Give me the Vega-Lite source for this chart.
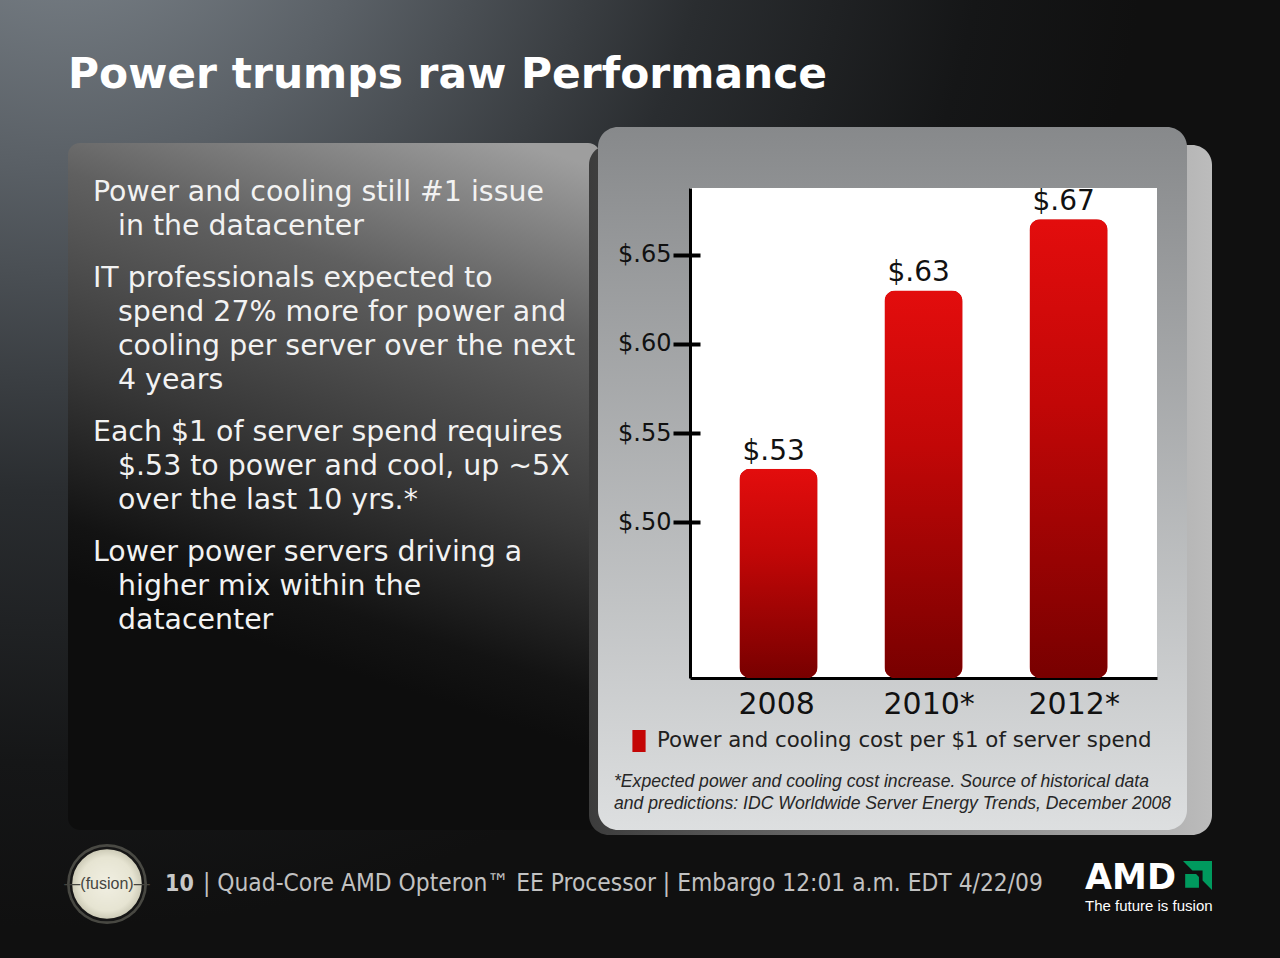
{
  "$schema": "https://vega.github.io/schema/vega-lite/v6.json",
  "background": "#111111",
  "padding": 0,
  "config": {
    "view": {"stroke": null},
    "font": "DejaVu Sans"
  },
  "title": {
    "text": "Power trumps raw Performance",
    "orient": "top",
    "anchor": "start",
    "frame": "bounds",
    "dx": 68,
    "offset": -130,
    "baseline": "alphabetic",
    "font": "DejaVu Sans",
    "fontWeight": "bold",
    "fontSize": 42.4,
    "color": "#ffffff"
  },
  "concat": [
    {
      "width": 1280,
      "height": 958,
      "view": {
        "stroke": null,
        "fill": {
          "gradient": "radial",
          "x1": 0.05, "y1": 0, "r1": 0,
          "x2": 0.05, "y2": 0, "r2": 0.85,
          "stops": [
            {"offset": 0, "color": "#858d94"},
            {"offset": 0.3, "color": "#5a6066"},
            {"offset": 0.6, "color": "#2a2d30"},
            {"offset": 0.85, "color": "#151617"},
            {"offset": 1, "color": "#101010"}
          ]
        }
      },
      "data": {"values": []},
      "mark": "point"
    },
    {
      "hconcat": [
        {"width": 64, "height": 1, "data": {"values": []}, "mark": "point"},
        {
          "vconcat": [
            {"width": 1, "height": 841, "data": {"values": []}, "mark": "point"},
            {
              "width": 86,
              "height": 86,
              "data": {"values": [{"label": "—(fusion)—"}]},
              "layer": [
                {"mark": {"type": "point", "shape": "circle", "size": 6400, "filled": true, "color": "#77776c", "opacity": 0.55}},
                {
                  "mark": {
                    "type": "point",
                    "shape": "circle",
                    "size": 5200,
                    "filled": true,
                    "opacity": 1,
                    "fill": {
                      "gradient": "radial",
                      "x1": 0.5, "y1": 0.5, "r1": 0,
                      "x2": 0.5, "y2": 0.5, "r2": 0.5,
                      "stops": [
                        {"offset": 0, "color": "#f1efe2"},
                        {"offset": 0.75, "color": "#e6e4d2"},
                        {"offset": 1, "color": "#c9c7b3"}
                      ]
                    },
                    "stroke": "#161616",
                    "strokeWidth": 2.5
                  }
                },
                {
                  "mark": {"type": "text", "font": "Liberation Sans Narrow, Liberation Sans", "fontSize": 16, "color": "#45453f"},
                  "encoding": {"text": {"field": "label"}}
                }
              ]
            }
          ],
          "spacing": 0,
          "bounds": "flush"
        },
        {"width": 4, "height": 1, "data": {"values": []}, "mark": "point"},
        {
          "vconcat": [
            {"width": 1, "height": 143, "data": {"values": []}, "mark": "point"},
            {
              "width": 532,
              "height": 687,
              "view": {
                "stroke": null,
                "cornerRadius": 12,
                "fill": {
                  "gradient": "linear",
                  "x1": 0.85, "y1": 0, "x2": 0.65, "y2": 0.8,
                  "stops": [
                    {"offset": 0, "color": "#9e9e9e"},
                    {"offset": 0.3, "color": "#606060"},
                    {"offset": 0.63, "color": "#383838"},
                    {"offset": 0.9, "color": "#131313"},
                    {"offset": 1, "color": "#0d0d0d"}
                  ]
                }
              },
              "title": {
                "text": "10",
                "orient": "bottom",
                "anchor": "start",
                "frame": "group",
                "dx": 97,
                "offset": 43,
                "font": "DejaVu Sans Condensed, DejaVu Sans",
                "fontSize": 23,
                "fontWeight": "bold",
                "color": "#c8c8c8"
              },
              "data": {
                "values": [
                  {"bullet": 0, "line": 0, "indent": 0, "text": "Power and cooling still #1 issue"},
                  {"bullet": 0, "line": 1, "indent": 1, "text": "in the datacenter"},
                  {"bullet": 1, "line": 2, "indent": 0, "text": "IT professionals expected to"},
                  {"bullet": 1, "line": 3, "indent": 1, "text": "spend 27% more for power and"},
                  {"bullet": 1, "line": 4, "indent": 1, "text": "cooling per server over the next"},
                  {"bullet": 1, "line": 5, "indent": 1, "text": "4 years"},
                  {"bullet": 2, "line": 6, "indent": 0, "text": "Each $1 of server spend requires"},
                  {"bullet": 2, "line": 7, "indent": 1, "text": "$.53 to power and cool, up ~5X"},
                  {"bullet": 2, "line": 8, "indent": 1, "text": "over the last 10 yrs.*"},
                  {"bullet": 3, "line": 9, "indent": 0, "text": "Lower power servers driving a"},
                  {"bullet": 3, "line": 10, "indent": 1, "text": "higher mix within the"},
                  {"bullet": 3, "line": 11, "indent": 1, "text": "datacenter"}
                ]
              },
              "mark": {
                "type": "text",
                "align": "left",
                "baseline": "middle",
                "font": "DejaVu Sans",
                "fontSize": 28.4,
                "color": "#f2f2f2",
                "dy": {"expr": "2 + datum.bullet * 18"}
              },
              "encoding": {
                "x": {"field": "indent", "type": "quantitative", "scale": {"domain": [-1, 20.28], "nice": false, "zero": false}, "axis": null},
                "y": {"field": "line", "type": "quantitative", "scale": {"domain": [-1.382, 18.824], "nice": false, "zero": false, "reverse": true}, "axis": null},
                "text": {"field": "text"}
              }
            }
          ],
          "spacing": 0,
          "bounds": "flush"
        },
        {"width": 521, "height": 1, "data": {"values": []}, "mark": "point"},
        {
          "vconcat": [
            {"width": 1, "height": 145, "data": {"values": []}, "mark": "point"},
            {
              "width": 623,
              "height": 690,
              "view": {
                "stroke": null,
                "cornerRadius": 20,
                "fill": {
                  "gradient": "linear",
                  "x1": 0, "y1": 0, "x2": 1, "y2": 0,
                  "stops": [
                    {"offset": 0, "color": "#3c3c3c"},
                    {"offset": 0.5, "color": "#7a7a7a"},
                    {"offset": 1, "color": "#bcbcbc"}
                  ]
                }
              },
              "data": {"values": []},
              "mark": "point"
            }
          ],
          "spacing": 0,
          "bounds": "flush"
        },
        {"width": 9, "height": 1, "data": {"values": []}, "mark": "point"},
        {
          "vconcat": [
            {"width": 1, "height": 127, "data": {"values": []}, "mark": "point"},
            {
              "width": 589,
              "height": 703,
              "view": {
                "stroke": null,
                "cornerRadius": 20,
                "fill": {
                  "gradient": "linear",
                  "x1": 0, "y1": 0, "x2": 0, "y2": 1,
                  "stops": [
                    {"offset": 0, "color": "#87898b"},
                    {"offset": 1, "color": "#dddfe0"}
                  ]
                }
              },
              "title": {
                "text": "| Quad-Core AMD Opteron™ EE Processor | Embargo 12:01 a.m. EDT 4/22/09",
                "orient": "bottom",
                "anchor": "start",
                "frame": "group",
                "dx": -395,
                "offset": 42,
                "font": "DejaVu Sans Condensed, DejaVu Sans",
                "fontSize": 24.3,
                "fontWeight": "normal",
                "color": "#c2c2c2"
              },
              "data": {"values": []},
              "mark": "point"
            }
          ],
          "spacing": 0,
          "bounds": "flush"
        },
        {"width": 92, "height": 1, "data": {"values": []}, "mark": "point"},
        {
          "vconcat": [
            {"width": 1, "height": 188, "data": {"values": []}, "mark": "point"},
            {
              "width": 467,
              "height": 490,
              "view": {"fill": "#ffffff", "stroke": null},
              "title": {
                "text": [
                  "*Expected power and cooling cost increase. Source of historical data",
                  "and predictions: IDC Worldwide Server Energy Trends, December 2008"
                ],
                "orient": "bottom",
                "anchor": "start",
                "frame": "group",
                "dx": -76,
                "offset": 21,
                "baseline": "top",
                "lineHeight": 22,
                "font": "Liberation Sans",
                "fontSize": 17.6,
                "fontStyle": "italic",
                "fontWeight": "normal",
                "color": "#262626"
              },
              "data": {
                "values": [
                  {"year": "2008", "cost": 0.53, "series": "Power and cooling cost per $1 of server spend"},
                  {"year": "2010*", "cost": 0.63, "series": "Power and cooling cost per $1 of server spend"},
                  {"year": "2012*", "cost": 0.67, "series": "Power and cooling cost per $1 of server spend"}
                ]
              },
              "encoding": {
                "x": {
                  "field": "year",
                  "type": "nominal",
                  "sort": null,
                  "scale": {"paddingInner": 0.462, "paddingOuter": 0.341},
                  "axis": {
                    "title": null,
                    "labelAngle": 0,
                    "labelAlign": "left",
                    "labelOffset": -40,
                    "labelFont": "DejaVu Sans",
                    "labelFontSize": 30,
                    "labelColor": "#111111",
                    "labelPadding": 11,
                    "ticks": false,
                    "tickSize": 0,
                    "domainColor": "#000000",
                    "domainWidth": 3
                  }
                },
                "y": {
                  "field": "cost",
                  "type": "quantitative",
                  "scale": {"domain": [0.4125, 0.6875], "zero": false, "nice": false, "clamp": true},
                  "axis": {
                    "title": null,
                    "values": [0.5, 0.55, 0.6, 0.65],
                    "labelExpr": "'$' + slice(format(datum.value, '.2f'), 1)",
                    "labelFont": "DejaVu Sans",
                    "labelFontSize": 24,
                    "labelColor": "#111111",
                    "labelPadding": 2,
                    "tickSize": 17,
                    "tickWidth": 4,
                    "tickColor": "#000000",
                    "domainColor": "#000000",
                    "domainWidth": 3,
                    "grid": true,
                    "gridColor": "#000000",
                    "gridOpacity": 1,
                    "gridWidth": 4,
                    "gridDash": [10, 2000]
                  }
                }
              },
              "layer": [
                {
                  "mark": {"type": "bar", "cornerRadius": 11},
                  "encoding": {
                    "color": {
                      "field": "series",
                      "type": "nominal",
                      "scale": {"range": ["#c40606"]},
                      "legend": {
                        "title": null,
                        "orient": "none",
                        "legendX": -62,
                        "legendY": 542,
                        "padding": 0,
                        "symbolType": "M-0.6,-1L0.6,-1L0.6,1L-0.6,1Z",
                        "symbolSize": 484,
                        "symbolStrokeWidth": 0,
                        "labelFont": "DejaVu Sans",
                        "labelFontSize": 21.3,
                        "labelColor": "#202020",
                        "labelOffset": 7,
                        "labelLimit": 700
                      }
                    }
                  }
                },
                {
                  "mark": {
                    "type": "bar",
                    "cornerRadius": 11,
                    "fill": {
                      "gradient": "linear",
                      "x1": 0, "y1": 0, "x2": 0, "y2": 1,
                      "stops": [
                        {"offset": 0, "color": "#e30d0d"},
                        {"offset": 0.4, "color": "#c20707"},
                        {"offset": 1, "color": "#780000"}
                      ]
                    }
                  }
                },
                {
                  "transform": [{"calculate": "'$' + slice(format(datum.cost, '.2f'), 1)", "as": "label"}],
                  "mark": {
                    "type": "text",
                    "align": "left",
                    "baseline": "alphabetic",
                    "dx": 3,
                    "dy": -9,
                    "font": "DejaVu Sans",
                    "fontSize": 28,
                    "color": "#111111"
                  },
                  "encoding": {
                    "x": {"field": "year", "type": "nominal", "sort": null, "bandPosition": 0},
                    "text": {"field": "label"}
                  }
                }
              ]
            }
          ],
          "resolve": {"scale": {"color": "independent"}, "legend": {"color": "independent"}},
          "spacing": 0,
          "bounds": "flush"
        },
        {"width": 493, "height": 1, "data": {"values": []}, "mark": "point"},
        {
          "vconcat": [
            {"width": 1, "height": 861, "data": {"values": []}, "mark": "point"},
            {
              "width": 29,
              "height": 29,
              "title": {
                "text": "AMD",
                "subtitle": "The future is fusion",
                "orient": "bottom",
                "anchor": "start",
                "frame": "group",
                "dx": -98,
                "offset": -29,
                "font": "DejaVu Sans",
                "fontWeight": "bold",
                "fontSize": 35,
                "color": "#ffffff",
                "subtitleFont": "Liberation Sans",
                "subtitleFontSize": 15,
                "subtitleColor": "#ffffff",
                "subtitlePadding": 3
              },
              "data": {"values": [{"brand": "AMD"}]},
              "mark": {
                "type": "point",
                "shape": "M-1,-1L1,-1L1,1L0.35,0.35L0.35,-0.35L-0.35,-0.35Z M-0.85,-0.1L-0.1,-0.1L0.1,0.1L0.1,0.85L-0.85,0.85Z",
                "size": 841,
                "filled": true,
                "color": "#009a5e",
                "opacity": 1
              }
            }
          ],
          "spacing": 0,
          "bounds": "flush"
        }
      ],
      "spacing": 0,
      "bounds": "flush"
    }
  ],
  "columns": 1,
  "align": "none",
  "spacing": -958,
  "bounds": "flush"
}
